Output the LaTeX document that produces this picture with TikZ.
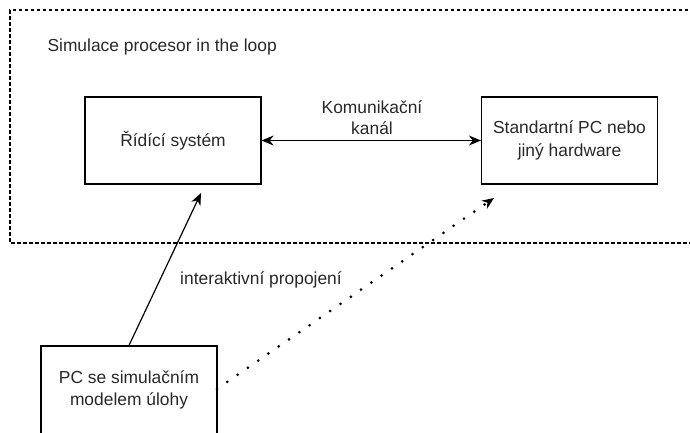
\documentclass[tikz,border=0pt]{standalone}
\usepackage{fontspec}
\setmainfont{Liberation Sans}
\usetikzlibrary{arrows.meta}
\definecolor{txt}{RGB}{40,40,40}
\begin{document}
\begin{tikzpicture}[x=1pt,y=-1pt,
  box/.style={draw,line width=1.2pt,minimum width=176pt,minimum height=87pt,inner sep=0pt,align=center,text=txt,font=\fontsize{17.4}{22.5}\selectfont},
  lbl/.style={text=txt,align=center,font=\fontsize{17.4}{21}\selectfont},
  conn/.style={line width=1.2pt,-{Stealth[length=12pt,width=10pt]}}]
\useasboundingbox (0,0) rectangle (690,432);
\draw[line width=1.2pt,dash pattern=on 3.5pt off 2.5pt] (700,10) -- (10,10) -- (10,243) -- (700,243);
\node[lbl,anchor=west] (title) at (44,47) {Simulace procesor in the loop};
\node[box] (ctrl) at (173,140.5) {Řídící systém};
\node[box] (pc) at (569.5,140.5) {Standartní PC nebo\\jiný hardware};
\node[box,minimum height=88pt] (sim) at (129,390) {PC se simulačním\\modelem úlohy};
\node[lbl] (kom) at (372,118) {Komunikační\\kanál};
\node[lbl] (inter) at (261,280) {interaktivní propojení};
\coordinate (t1) at (201,193);
\coordinate (t2) at (494,198);
\coordinate (s2) at (217,389);
\draw[line width=1.2pt,{Stealth[length=12pt,width=10pt]}-{Stealth[length=12pt,width=10pt]}] (ctrl.east) -- (pc.west);
\draw[conn] (sim.north) -- (t1);
\draw[line width=3pt,line cap=round,dash pattern=on 0pt off 12.5pt,-{Stealth[length=12pt,width=10pt,line width=0pt]}] (s2) -- (t2);
\end{tikzpicture}
\end{document}
